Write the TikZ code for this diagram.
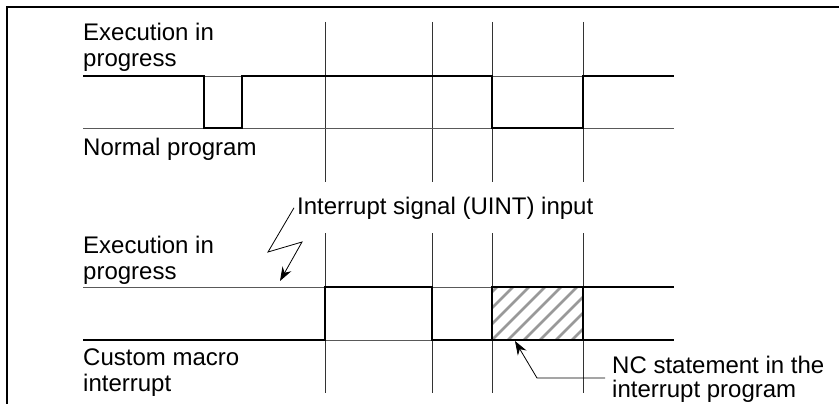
\documentclass[tikz,border=0pt]{standalone}
\usepackage{fontspec}
\setmainfont{Liberation Sans}
\usetikzlibrary{arrows.meta}

\begin{document}
\begin{tikzpicture}[x=1pt,y=-1pt,>=Stealth,line cap=butt,line join=miter]
  \tikzset{
    frame/.style={line width=2pt},
    grid/.style={line width=0.9pt,black!80},
    level/.style={line width=0.9pt,black!65},
    signal/.style={line width=2.4pt},
    hatch/.style={line width=2.6pt,black!40},
    caption/.style={anchor=base west,align=left,inner sep=0pt,
      font=\fontsize{24}{26}\selectfont},
    pointer/.style={line width=0.8pt,-{Stealth[length=14pt,width=10pt]}}
  }
  \useasboundingbox (0,0) rectangle (839,404);

  % frame (open to the right and bottom)
  \draw[frame] (7,420) -- (7,7) -- (850,7);

  % time marks
  \foreach \t in {325,432,492,583} {
    \draw[grid] (\t,22) -- (\t,182);
    \draw[grid] (\t,233) -- (\t,393);
  }

  % reference levels
  \foreach \lv in {76,128,287,340}
    \draw[level] (83,\lv) -- (674,\lv);

  % normal program
  \draw[signal] (83,76) -- (204,76) -- (204,128) -- (242,128) -- (242,76)
    -- (492,76) -- (492,128) -- (583,128) -- (583,76) -- (674,76);

  % custom macro interrupt
  \begin{scope}
    \clip (492,287) rectangle (583,340);
    \foreach \h in {-64,-48,...,120}
      \draw[hatch] (492+\h,340) -- (492+\h+60,280);
  \end{scope}
  \draw[signal] (83,340) -- (325,340) -- (325,287) -- (432,287) -- (432,340)
    -- (674,340);
  \draw[signal] (492,287) rectangle (583,340);
  \draw[signal] (583,287) -- (674,287);

  % labels (base = last line)
  \node[caption] (exectop) at (83,67) {Execution in\\progress};
  \node[caption] (normal) at (83,155) {Normal program};
  \node[caption] (uint) at (297,214) {Interrupt signal (UINT) input};
  \node[caption] (execbot) at (83,279) {Execution in\\progress};
  \node[caption] (custom) at (83,391) {Custom macro\\interrupt};
  \node[caption,font=\fontsize{24}{24}\selectfont] (nc) at (612,397)
    {NC statement in the\\interrupt program};

  \coordinate (bolt1) at (268,252);
  \coordinate (bolt2) at (302,242);
  \coordinate (uintin) at (280,281);
  \coordinate (ncfoot) at (605,378);
  \coordinate (ncbend) at (537,378);
  \coordinate (ncbox) at (515,341);

  \draw[pointer] ([xshift=-3pt]uint.west) -- (bolt1) -- (bolt2) -- (uintin);
  \draw[pointer] (ncfoot) -- (ncbend) -- (ncbox);
\end{tikzpicture}
\end{document}
